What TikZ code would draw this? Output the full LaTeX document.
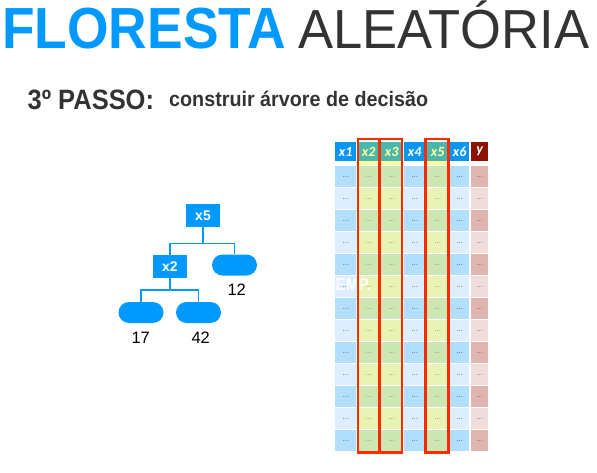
\documentclass[tikz,border=0pt]{standalone}
\usepackage{fontspec}
\setmainfont{Liberation Sans}
\newfontfamily\hdrfont{Carlito}
\definecolor{titleblue}{RGB}{0,153,255}
\definecolor{darktext}{RGB}{51,51,51}
\definecolor{treeblue}{RGB}{0,153,255}
\definecolor{bhead}{RGB}{10,150,240}
\definecolor{bdark}{RGB}{179,223,255}
\definecolor{blight}{RGB}{220,238,255}
\definecolor{ghead}{RGB}{77,182,172}
\definecolor{gdark}{RGB}{205,231,180}
\definecolor{glight}{RGB}{233,244,180}
\definecolor{rhead}{RGB}{140,17,0}
\definecolor{rdark}{RGB}{222,182,175}
\definecolor{rlight}{RGB}{240,221,219}
\definecolor{paleyellow}{RGB}{255,255,160}
\definecolor{redbox}{RGB}{255,42,0}
\definecolor{bdot}{RGB}{80,100,130}
\definecolor{gdot}{RGB}{140,145,90}
\definecolor{rdot}{RGB}{140,90,85}
\begin{document}
\begin{tikzpicture}[x=1pt,y=-1pt,
  dnode/.style={fill=treeblue, text=white, font=\bfseries\fontsize{14}{14}\selectfont,
    minimum width=34, minimum height=23, inner sep=0},
  leaf/.style={fill=treeblue, rounded corners=10.5, minimum width=45, minimum height=21, inner sep=0},
  conn/.style={draw=treeblue, line width=1.3},
  lbl/.style={font=\fontsize{16.5}{16.5}\selectfont, text=black, inner sep=0},
  cell/.style={anchor=north west, inner sep=0, minimum height=21,
    font=\fontsize{8}{8}\selectfont},
  hdr/.style={anchor=north west, inner sep=0, minimum height=19,
    font=\hdrfont\bfseries\itshape\fontsize{14}{14}\selectfont},
  sel/.style={draw=redbox, line width=2.4}]
\useasboundingbox (0,0) rectangle (597,473);
% titles
\node[anchor=base west, inner sep=0, text=titleblue, font=\bfseries\fontsize{58}{58}\selectfont]
  (t1) at (2,49) {\scalebox{0.92}[1]{FLORESTA}};
\node[anchor=base west, inner sep=0, text=darktext, font=\fontsize{55}{55}\selectfont]
  (t2) at (298,49) {\scalebox{0.955}[1]{ALEATÓRIA}};
\node[anchor=base west, inner sep=0, text=darktext, font=\bfseries\fontsize{28}{28}\selectfont]
  (t3) at (27.5,110) {\scalebox{0.91}[1]{3º PASSO:}};
\node[anchor=base west, inner sep=0, text=darktext, font=\bfseries\fontsize{21}{21}\selectfont]
  (t4) at (169,107) {\scalebox{0.94}[1]{construir árvore de decisão}};
% table
\foreach \l/\w/\hc/\dc/\lc/\tc/\sc/\pc/\lab [count=\c] in {
  335/21/bhead/bdark/blight/white/white/bdot/x1,
  358/21/ghead/gdark/glight/paleyellow/paleyellow/gdot/x2,
  381/21/ghead/gdark/glight/paleyellow/paleyellow/gdot/x3,
  404/21/bhead/bdark/blight/white/white/bdot/x4,
  427/21/ghead/gdark/glight/paleyellow/paleyellow/gdot/x5,
  450/19/bhead/bdark/blight/white/white/bdot/x6,
  471/17/rhead/rdark/rlight/white/white/rdot/y}{
  \node[hdr, fill=\hc, text=\tc, minimum width=\w] (h\c) at (\l,142) {\lab};
  \fill[\sc] (\l,161) rectangle (\l+\w,165);
  \foreach \i in {0,2,...,12}{
    \node[cell, fill=\dc, text=\pc, minimum width=\w] (c\i-\c) at (\l,166+22*\i) {...};
  }
  \foreach \i in {1,3,...,11}{
    \node[cell, fill=\lc, text=\pc, minimum width=\w] (c\i-\c) at (\l,166+22*\i) {...};
  }
}
% watermark fragment
\node[anchor=base west, inner sep=0, text=white, opacity=0.92, font=\bfseries\fontsize{17}{17}\selectfont]
  (wm) at (335.5,290.5) {\scalebox{0.9}[1]{EMP.}};
% selection boxes
\draw[sel] (358,139) rectangle (379.5,452.5);
\draw[sel] (379.5,139) rectangle (401.7,452.5);
\draw[sel] (425.5,139) rectangle (448.3,452.5);
% tree
\node[dnode] (x5) at (203,215.5) {x5};
\node[dnode] (x2) at (170,266.5) {x2};
\node[leaf] (l12) at (234.5,265) {};
\node[leaf] (l17) at (141,312.5) {};
\node[leaf] (l42) at (198.5,312.5) {};
\coordinate (j1) at (203,243.3);
\coordinate (j2) at (170,290);
\draw[conn] (x5.south) -- (j1);
\draw[conn] (x2.north) |- (j1) -| (l12.north);
\draw[conn] (x2.south) -- (j2);
\draw[conn] (l17.north) |- (j2) -| (l42.north);
\node[lbl] (n12) at (236.7,290) {12};
\node[lbl] (n17) at (140.7,338) {17};
\node[lbl] (n42) at (200.7,338) {42};
\end{tikzpicture}
\end{document}
